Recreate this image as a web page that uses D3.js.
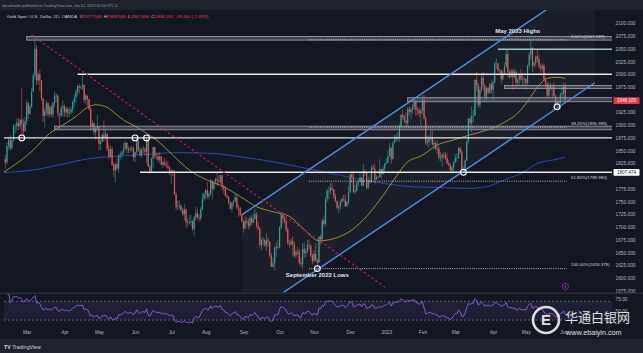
<!DOCTYPE html>
<html>
<head>
<meta charset="utf-8">
<script src="https://cdn.jsdelivr.net/npm/d3@7"></script>
<style>
  html, body { margin: 0; padding: 0; background: #131722; }
  svg { display: block; font-family: "Liberation Sans", Arial, sans-serif; }
</style>
</head>
<body>
<script>
// ---- data (XAU/USD daily, OANDA) ----
const firstDay = "2022-02-09", lastDay = "2023-06-02";
const firstOpen = 1826;

// daily closes, one row per month (weekdays)
const closes = [
  1833,1827,1859, 1871,1855,1870,1898,1898, 1905,1898,1910,1903,1889, 1908,
  1943,1923,1936,1966, 1998,2050,1988,2000,1988, 1952,1918,1928,1943,1921, 1936,1921,1944,1958,1958, 1923,1919,1933,1937,
  1925, 1932,1923,1925,1931,1946, 1954,1966,1977,1974,1975, 1979,1950,1958,1951,1931, 1898,1904,1886,1894,1897,
  1863,1868,1881,1876,1883, 1854,1838,1853,1822,1811, 1824,1815,1841,1842,1846, 1853,1865,1853,1851,1853, 1855,1837,
  1847,1869,1851, 1841,1852,1853,1848,1871, 1819,1809,1834,1857,1840, 1839,1832,1838,1822,1827, 1823,1820,1817,1807,
  1811, 1809,1764,1739,1740,1742, 1733,1725,1735,1709,1708, 1709,1711,1696,1719,1727, 1719,1717,1735,1756,1765,
  1772,1760,1765,1791,1775, 1789,1794,1792,1789,1802, 1779,1775,1761,1758,1747, 1736,1748,1751,1758,1738, 1737,1723,1711,
  1697,1712, 1710,1702,1718,1708,1717, 1725,1702,1697,1665,1675, 1675,1664,1674,1671,1644, 1622,1629,1659,1661,1660,
  1699,1725,1716,1712,1695, 1668,1666,1673,1666,1644, 1650,1652,1629,1627,1657, 1649,1652,1665,1663,1644, 1633,
  1647,1635,1630,1681, 1676,1713,1706,1755,1771, 1771,1777,1774,1761,1751, 1738,1740,1749,1755,1754, 1741,1749,1768,
  1803,1797, 1769,1771,1787,1789,1797, 1781,1810,1807,1777,1792, 1788,1817,1814,1793,1798, 1798,1814,1804,1815,1824,
  1826,1839,1855,1833,1865, 1872,1877,1875,1898,1920, 1916,1909,1904,1932,1926, 1931,1936,1946,1930,1929, 1923,1928,
  1950,1913,1865, 1867,1874,1877,1862,1865, 1854,1854,1836,1836,1842, 1841,1835,1825,1822,1811, 1817,1827,
  1836,1836,1855, 1847,1813,1814,1831,1868, 1913,1904,1918,1919,1989, 1978,1940,1970,1993,1978, 1956,1973,1964,1980,1969,
  1984,2021,2021,2008,2007, 1990,2003,2015,2040,2004, 1995,2006,1994,2005,1983, 1989,1998,1990,1989,1990,
  1983,2017,2039,2051,2017, 2022,2035,2030,2015,2011, 2017,1990,1982,1958,1978, 1971,1975,1957,1941,1946, 1943,1960,1963,
  1977.54,1948.1
];
const highs = [
  1836,1842,1865, 1875,1880,1873,1902,1903, 1913,1914,1914,1974,1912, 1916,
  1950,1946,1941,1973, 2002,2066,2057,2004,2009, 1985,1954,1934,1949,1945, 1939,1940,1946,1966,1963, 1960,1923,1939,1949,
  1941, 1937,1936,1934,1937,1948, 1960,1970,1979,1982,1978, 1998,1980,1961,1958,1951, 1936,1911,1906,1898,1920,
  1897,1872,1885,1909,1890, 1884,1864,1859,1858,1828, 1825,1835,1843,1849,1850, 1865,1869,1867,1858,1858, 1860,1858,
  1849,1874,1872, 1857,1856,1860,1857,1876, 1876,1823,1837,1858,1857, 1846,1847,1847,1840,1830, 1835,1830,1829,1820,
  1813, 1813,1812,1769,1752,1752, 1745,1737,1745,1736,1717, 1723,1724,1714,1722,1739, 1736,1726,1740,1767,1768,
  1775,1788,1770,1795,1792, 1791,1797,1807,1802,1803, 1802,1783,1781,1766,1761, 1750,1750,1754,1765,1765, 1744,1740,1726,
  1713,1721, 1718,1717,1721,1723,1727, 1736,1729,1710,1699,1678, 1681,1676,1688,1680,1672, 1649,1640,1662,1670,1675,
  1702,1730,1729,1722,1718, 1699,1675,1677,1682,1671, 1655,1661,1657,1640,1668, 1670,1658,1675,1674,1666, 1649,
  1655,1669,1638,1682, 1686,1717,1723,1759,1775, 1780,1786,1786,1774,1766, 1752,1744,1754,1759,1763, 1764,1751,1781,
  1804,1810, 1810,1782,1792,1795,1810, 1798,1824,1814,1806,1799, 1801,1821,1824,1823,1802, 1800,1833,1814,1820,1826,
  1835,1850,1865,1858,1869, 1881,1882,1886,1902,1922, 1930,1920,1925,1935,1937, 1934,1942,1949,1949,1936, 1934,1933,
  1959,1959,1918, 1879,1881,1890,1890,1871, 1867,1870,1858,1847,1845, 1847,1848,1845,1831,1825, 1821,1829,
  1843,1845,1857, 1858,1852,1819,1833,1871, 1914,1918,1937,1930,1990, 2005,1983,1975,2002,2004, 1980,1975,1975,1983,1987,
  1990,2025,2032,2022,2010, 2010,2008,2022,2048,2048, 2009,2011,2010,2012,2008, 1993,2000,2010,1999,1995,
  1993,2019,2043,2068,2054, 2026,2037,2048,2038,2021, 2022,2021,1994,1985,1984, 1983,1980,1985,1961,1956, 1946,1964,1974,
  1983,1983.505
];
const lows = [
  1822,1815,1823, 1852,1850,1852,1868,1884, 1889,1890,1892,1878,1878, 1886,
  1900,1912,1920,1934, 1966,1990,1979,1980,1966, 1948,1906,1895,1919,1915, 1916,1916,1914,1935,1944, 1916,1890,1916,1917,
  1916, 1917,1915,1916,1921,1924, 1936,1943,1957,1962,1970, 1969,1944,1940,1938,1930, 1890,1891,1880,1872,1890,
  1850,1851,1865,1867,1872, 1849,1832,1836,1820,1798, 1787,1811,1807,1831,1834, 1842,1850,1844,1845,1846, 1848,1829,
  1828,1842,1848, 1838,1836,1845,1840,1825, 1818,1805,1807,1815,1835, 1831,1828,1825,1821,1816, 1820,1816,1813,1802,
  1785, 1800,1763,1733,1733,1735, 1730,1722,1713,1697,1700, 1706,1702,1692,1681,1712, 1715,1711,1712,1733,1750,
  1754,1755,1754,1762,1754, 1771,1784,1781,1783,1785, 1772,1766,1760,1755,1745, 1734,1728,1741,1748,1734, 1720,1722,1709,
  1689,1696, 1706,1695,1698,1704,1708, 1714,1697,1693,1660,1654, 1663,1660,1654,1661,1640, 1621,1620,1615,1641,1656,
  1659,1696,1707,1707,1690, 1665,1659,1663,1642,1640, 1640,1645,1628,1622,1618, 1639,1641,1649,1656,1640, 1627,
  1630,1633,1616,1630, 1664,1672,1701,1701,1749, 1754,1765,1771,1756,1748, 1735,1727,1734,1748,1750, 1739,1739,1745,
  1766,1787, 1766,1765,1770,1780,1786, 1780,1780,1800,1774,1774, 1785,1786,1812,1784,1793, 1796,1797,1796,1803,1807,
  1823,1826,1838,1824,1833, 1866,1867,1868,1868,1896, 1911,1904,1897,1896,1920, 1911,1922,1930,1918,1920, 1916,1900,
  1921,1911,1861, 1860,1856,1870,1860,1853, 1850,1843,1830,1829,1819, 1834,1831,1822,1819,1809, 1804,1806,
  1825,1829,1834, 1845,1812,1809,1810,1829, 1864,1899,1886,1906,1918, 1966,1935,1934,1965,1968, 1945,1949,1960,1962,1962,
  1950,1982,2010,2004,1999, 1981,1988,1998,2013,1993, 1992,1992,1969,1992,1972, 1977,1976,1986,1975,1977,
  1969,1977,2012,2028,2004, 2013,2015,2022,2012,2003, 2006,1986,1974,1952,1954, 1968,1955,1956,1937,1937, 1938,1932,1951,
  1950,1947.68
];

// moving averages as drawn on the chart
const maFast = [
  ["2022-02-09",1808],["2022-02-21",1825],["2022-03-07",1851],["2022-03-21",1884],["2022-04-04",1904],
  ["2022-04-12",1917],["2022-04-21",1935],["2022-04-28",1940],["2022-05-09",1935],["2022-05-17",1920],
  ["2022-05-23",1910],["2022-05-31",1900],["2022-06-10",1884],["2022-06-20",1871],["2022-07-04",1841],
  ["2022-07-18",1812],["2022-08-02",1792],["2022-08-16",1779],["2022-08-30",1760],["2022-09-13",1740],
  ["2022-09-27",1730],["2022-10-11",1721],["2022-10-21",1698],["2022-11-04",1673],["2022-11-29",1688],
  ["2022-12-13",1714],["2022-12-27",1753],["2023-01-10",1799],["2023-01-18",1825],["2023-02-01",1841],
  ["2023-02-14",1861],["2023-02-28",1871],["2023-03-14",1881],["2023-03-28",1890],["2023-04-11",1904],
  ["2023-04-26",1930],["2023-05-04",1956],["2023-05-12",1982],["2023-05-18",1992],["2023-05-26",1994],
  ["2023-06-02",1992]
];
const maSlow = [
  ["2022-02-09",1807],["2022-03-07",1812],["2022-04-04",1825],["2022-04-18",1832],["2022-05-03",1837],
  ["2022-05-17",1839],["2022-05-31",1841],["2022-06-14",1843],["2022-07-04",1846],["2022-08-02",1845],
  ["2022-08-30",1838],["2022-09-27",1828],["2022-10-11",1822],["2022-11-01",1812],["2022-11-29",1799],
  ["2022-12-27",1787],["2023-01-24",1779],["2023-02-08",1778],["2023-03-10",1776],["2023-03-28",1779],
  ["2023-04-12",1793],["2023-04-26",1805],["2023-05-10",1825],["2023-05-24",1832],["2023-06-02",1837]
];

// drawings
const hLines = [
  { from: "2022-04-13", price: 2000, color: "#e8e8e8" },
  { from: "2022-02-09", price: 1875, color: "#e8e8e8" },
  { from: "2022-06-06", price: 1807.474, color: "#e8e8e8" },
  { from: "2023-04-06", price: 2049, color: "#9cc3cf" }
];
const zones = [
  { from: "2022-03-01", top: 2074, bottom: 2067 },
  { from: "2022-03-24", top: 1898, bottom: 1891 },
  { from: "2023-01-19", top: 1954, bottom: 1946 },
  { from: "2023-04-12", top: 1978, bottom: 1972 }
];
const fibFrom = "2022-10-27";
const fibNames = ["0.00%", "38.20%", "61.80%", "100.00%"];
const fibPrices = [2067.597, 1895.996, 1789.980, 1618.379];
const channel = { a: ["2022-08-31", 1724], b: ["2023-02-07", 1971.5], width: 207.5, extraBars: 18 };
const downTrend = [["2022-03-04", 2077], ["2023-01-02", 1580]];
const markers = [
  ["2022-02-24", 1875], ["2022-06-01", 1875], ["2022-06-10", 1875],
  ["2022-11-03", 1618.4], ["2023-03-08", 1807.5], ["2023-05-26", 1936]
];
const notes = [
  { text: "May 2023 Highs", day: "2023-04-24", price: 2085 },
  { text: "September 2022 Lows", day: "2022-11-03", price: 1607 }
];

// header
const symbolName = "Gold Spot / U.S. Dollar, 1D, OANDA";
const ohlcKeys = ["O", "H", "L", "C"];
const ohlcVals = ["1977.540", "1983.505", "1947.680", "1948.100"];
const changeText = "-29.440 (-1.49%)";
const priceTicks = d3.range(1575, 2101, 25);
const rsiTicks = [50, 75];

// ---- layout ----
const W = 643, H = 353;
const pane = { l: 4, r: 612, t: 10, b: 292.5 };
const rsiPane = { t: 294, b: 327.5 };
const up = "#26a69a", down = "#ef5350";

const parse = d3.timeParse("%Y-%m-%d"), fmt = d3.timeFormat("%Y-%m-%d");
const days = d3.timeDay.range(parse(firstDay), d3.timeDay.offset(parse(lastDay), 1))
  .filter(d => d.getDay() !== 0 && d.getDay() !== 6);
const dayIdx = new Map(days.map((d, i) => [fmt(d), i]));
const ix = s => dayIdx.get(s);
const last = days.length - 1;

const x = d3.scaleLinear().domain([0, last]).range([3.7, 565.3]);
const y = d3.scaleLinear().domain([1575, 2100]).range([290.7, 23.3]);
const yR = d3.scaleLinear().domain([25, 75]).range([322.4, 299]);

const bars = closes.slice(0, days.length).map((c, i) => {
  const o = i ? closes[i - 1] : firstOpen;
  return { i, o, c, h: Math.max(highs[i], o, c), l: Math.min(lows[i], o, c) };
});

// RSI(14), Wilder smoothing
const rsi = [];
let ag = 0, al = 0;
for (let i = 1; i < closes.length; i++) {
  const ch = closes[i] - closes[i - 1];
  const n = Math.min(i, 14);
  ag = (ag * (n - 1) + Math.max(ch, 0)) / n;
  al = (al * (n - 1) + Math.max(-ch, 0)) / n;
  rsi.push({ i, v: al === 0 ? 100 : 100 - 100 / (1 + ag / al) });
}

const svg = d3.select("body").append("svg").attr("width", W).attr("height", H);
svg.append("rect").attr("width", W).attr("height", H).attr("fill", "#1e222d");
svg.append("rect").attr("x", 0).attr("y", 10).attr("width", W).attr("height", 329).attr("fill", "#131722");

svg.append("text").attr("x", 2).attr("y", 6.6).attr("font-size", 3.7).attr("fill", "#9598a1")
  .text("dacolmanfx published on TradingView.com, Jun 02, 2023 20:34 UTC-4");

const defs = svg.append("defs");
defs.append("clipPath").attr("id", "cm").append("rect")
  .attr("x", pane.l).attr("y", pane.t).attr("width", pane.r - pane.l).attr("height", pane.b - pane.t);
defs.append("clipPath").attr("id", "cr").append("rect")
  .attr("x", pane.l).attr("y", rsiPane.t).attr("width", pane.r - pane.l).attr("height", rsiPane.b - rsiPane.t);

const main = svg.append("g").attr("clip-path", "url(#cm)");

// channel fill
const cA = ix(channel.a[0]), cB = ix(channel.b[0]);
const slope = (channel.b[1] - channel.a[1]) / (cB - cA);
const cEnd = last + channel.extraBars;
const upAt = i => channel.a[1] + slope * (i - cA);
main.append("path")
  .attr("d", d3.line()([
    [x(cA), y(upAt(cA))], [x(cEnd), y(upAt(cEnd))],
    [x(cEnd), y(upAt(cEnd) - channel.width)], [x(cA), y(upAt(cA) - channel.width)]
  ]) + "Z")
  .attr("fill", "rgba(255,255,255,0.035)");

// moving averages
const maLine = d3.line().x(d => x(ix(d[0]))).y(d => y(d[1])).curve(d3.curveMonotoneX);
main.append("path").attr("d", maLine(maSlow)).attr("fill", "none").attr("stroke", "#2a4ab2").attr("stroke-width", 1);
main.append("path").attr("d", maLine(maFast)).attr("fill", "none").attr("stroke", "#a99a3c").attr("stroke-width", 0.9);

// candles
const gC = main.append("g");
gC.selectAll("line").data(bars).join("line")
  .attr("x1", d => x(d.i)).attr("x2", d => x(d.i))
  .attr("y1", d => y(d.h)).attr("y2", d => y(d.l))
  .attr("stroke", d => d.c >= d.o ? up : down).attr("stroke-width", 0.6);
gC.selectAll("rect").data(bars).join("rect")
  .attr("x", d => x(d.i) - 0.6).attr("width", 1.2)
  .attr("y", d => y(Math.max(d.o, d.c)))
  .attr("height", d => Math.max(0.6, Math.abs(y(d.o) - y(d.c))))
  .attr("fill", d => d.c >= d.o ? up : down);

// zones
main.selectAll(".zone").data(zones).join("rect").attr("class", "zone")
  .attr("x", d => x(ix(d.from))).attr("width", d => pane.r + 2 - x(ix(d.from)))
  .attr("y", d => y(d.top)).attr("height", d => y(d.bottom) - y(d.top))
  .attr("fill", "rgba(120,123,134,0.45)").attr("stroke", "#9598a1").attr("stroke-width", 0.9);

// horizontal levels
main.selectAll(".hl").data(hLines).join("line").attr("class", "hl")
  .attr("x1", d => x(ix(d.from))).attr("x2", pane.r + 2)
  .attr("y1", d => y(d.price)).attr("y2", d => y(d.price))
  .attr("stroke", d => d.color).attr("stroke-width", 1.4);

// fib retracement
const fibX0 = x(ix(fibFrom)), fibX1 = x(last + 1);
main.selectAll(".fib").data(fibPrices).join("line").attr("class", "fib")
  .attr("x1", fibX0).attr("x2", fibX1).attr("y1", d => y(d)).attr("y2", d => y(d))
  .attr("stroke", "#d1d4dc").attr("stroke-width", 0.9).attr("stroke-dasharray", "0.9,1.3");
main.selectAll(".fibt").data(fibPrices).join("text").attr("class", "fibt")
  .attr("x", fibX1 + 4).attr("y", d => y(d) - 2.2)
  .attr("font-size", 4.4).attr("fill", "#d1d4dc")
  .text((d, i) => `${fibNames[i]}(${d.toFixed(3)})`);

// channel lines
[0, channel.width].forEach(off => {
  main.append("line")
    .attr("x1", x(cA)).attr("y1", y(upAt(cA) - off))
    .attr("x2", x(cEnd)).attr("y2", y(upAt(cEnd) - off))
    .attr("stroke", "#4f8fe0").attr("stroke-width", 1.4);
});

// falling trend line
main.append("line")
  .attr("x1", x(ix(downTrend[0][0]))).attr("y1", y(downTrend[0][1]))
  .attr("x2", x(ix(downTrend[1][0]))).attr("y2", y(downTrend[1][1]))
  .attr("stroke", "#c2185b").attr("stroke-width", 1.3).attr("stroke-dasharray", "2.2,2.6");

// touch markers
main.selectAll(".mk").data(markers).join("circle").attr("class", "mk")
  .attr("cx", d => x(ix(d[0]))).attr("cy", d => y(d[1])).attr("r", 2.9)
  .attr("fill", "none").attr("stroke", "#ffffff").attr("stroke-width", 1.1);

// notes
main.selectAll(".note").data(notes).join("text").attr("class", "note")
  .attr("x", d => x(ix(d.day))).attr("y", d => y(d.price)).attr("dy", "0.35em")
  .attr("text-anchor", "middle").attr("font-size", 6).attr("font-weight", "bold")
  .attr("fill", "#e0e3eb").text(d => d.text);

// event marker
svg.append("circle").attr("cx", x(last)).attr("cy", 286.5).attr("r", 3.2)
  .attr("fill", "#131722").attr("stroke", "#9c27b0").attr("stroke-width", 0.8);
svg.append("circle").attr("cx", x(last)).attr("cy", 286.5).attr("r", 1)
  .attr("fill", "#9c27b0");

// legend
const lg = svg.append("text").attr("x", 7).attr("y", 18).attr("font-size", 4.4).attr("fill", "#d1d4dc");
lg.append("tspan").text(symbolName);
ohlcKeys.forEach((k, i) => {
  lg.append("tspan").attr("dx", 2.5).text(k);
  lg.append("tspan").attr("fill", "#f23645").text(ohlcVals[i]);
});
lg.append("tspan").attr("dx", 2.5).attr("fill", "#f23645").text(changeText);

// price axis
const yAxis = svg.append("g").attr("transform", `translate(${pane.r},0)`)
  .call(d3.axisRight(y).tickValues(priceTicks).tickFormat(d3.format(".3f")).tickSize(0).tickPadding(3.5));
yAxis.select(".domain").remove();
yAxis.selectAll("text").attr("font-size", 4.8).attr("fill", "#b2b5be")
  .attr("opacity", d => (Math.abs(y(d) - y(1948.1)) < 6 || Math.abs(y(d) - y(1807.474)) < 6) ? 0 : 1);

// price tags
[[1948.1, "#f23645", "#ffffff"], [1807.474, "#ffffff", "#131722"]].forEach(([p, bg, fg]) => {
  svg.append("rect").attr("x", 613.5).attr("y", y(p) - 3.4).attr("width", 26).attr("height", 6.8)
    .attr("rx", 0.8).attr("fill", bg);
  svg.append("text").attr("x", 626.5).attr("y", y(p)).attr("dy", "0.35em").attr("text-anchor", "middle")
    .attr("font-size", 4.6).attr("fill", fg).text(p.toFixed(3));
});

// pane separator
svg.append("line").attr("x1", 0).attr("x2", W).attr("y1", 293.3).attr("y2", 293.3)
  .attr("stroke", "#2a2e39").attr("stroke-width", 1.4);

// RSI pane
const rp = svg.append("g").attr("clip-path", "url(#cr)");
rp.append("rect").attr("x", pane.l).attr("width", pane.r - pane.l)
  .attr("y", yR(70)).attr("height", yR(30) - yR(70)).attr("fill", "rgba(126,87,194,0.12)");
[70, 30].forEach(v => rp.append("line").attr("x1", pane.l).attr("x2", pane.r)
  .attr("y1", yR(v)).attr("y2", yR(v)).attr("stroke", "#787b86").attr("stroke-width", 0.7)
  .attr("stroke-dasharray", "2,2"));
rp.append("path").datum(rsi.filter(d => d.i >= 2))
  .attr("d", d3.line().x(d => x(d.i)).y(d => yR(d.v)))
  .attr("fill", "none").attr("stroke", "#8a5fd6").attr("stroke-width", 0.95);

const rAxis = svg.append("g").attr("transform", `translate(${pane.r},0)`)
  .call(d3.axisRight(yR).tickValues(rsiTicks).tickFormat(d3.format(".2f")).tickSize(0).tickPadding(3.5));
rAxis.select(".domain").remove();
rAxis.selectAll("text").attr("font-size", 4.8).attr("fill", "#b2b5be");

// time axis
const monthStarts = days.map((d, i) => i).filter(i => i > 0 && days[i].getMonth() !== days[i - 1].getMonth());
const xAxis = svg.append("g").attr("transform", "translate(0,328)")
  .call(d3.axisBottom(x).tickValues(monthStarts).tickSize(0).tickPadding(3)
    .tickFormat(i => days[i].getMonth() === 0 ? d3.timeFormat("%Y")(days[i]) : d3.timeFormat("%b")(days[i])));
xAxis.select(".domain").remove();
xAxis.selectAll("text").attr("font-size", 4.8).attr("fill", "#b2b5be");

// footer
svg.append("text").attr("x", 4).attr("y", 348.5).attr("font-size", 5.2).attr("font-weight", "bold")
  .attr("fill", "#d1d4dc").text("TV").append("tspan").attr("dx", 1.5).attr("font-weight", "normal").text("TradingView");

// watermark
const wm = svg.append("g").attr("opacity", 0.85);
wm.append("circle").attr("cx", 546).attr("cy", 320).attr("r", 13).attr("fill", "none")
  .attr("stroke", "#ffffff").attr("stroke-width", 2.6);
wm.append("text").attr("x", 546).attr("y", 320).attr("dy", "0.36em").attr("text-anchor", "middle")
  .attr("font-size", 15).attr("font-weight", "bold").attr("fill", "#ffffff").text("E");
wm.append("text").attr("x", 565).attr("y", 322).attr("font-size", 13)
  .attr("font-family", "'Noto Sans CJK SC', sans-serif").attr("fill", "#ffffff").text("华通白银网");
wm.append("text").attr("x", 566).attr("y", 334.5).attr("font-size", 7.2).attr("fill", "#ffffff")
  .text("www.ebaiyin.com");
</script>
</body>
</html>
